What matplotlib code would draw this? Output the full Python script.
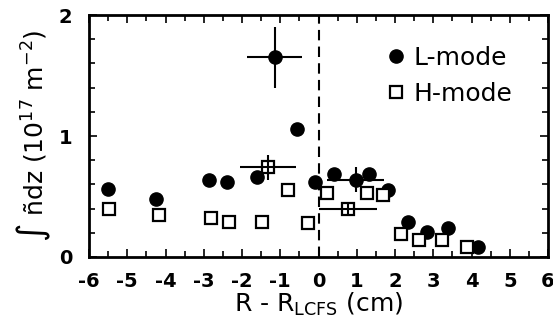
import matplotlib
matplotlib.use("Agg")
import matplotlib.pyplot as plt
from matplotlib.ticker import MultipleLocator

# L-mode points (filled circles)
l_r = [-5.5, -4.25, -2.86, -2.39, -1.61, -1.14, -0.56, -0.09, 0.41, 0.97, 1.32, 1.82, 2.34, 2.84, 3.39, 4.17]
l_n = [0.56, 0.48, 0.64, 0.62, 0.66, 1.65, 1.06, 0.62, 0.69, 0.64, 0.69, 0.55, 0.29, 0.21, 0.24, 0.08]
# representative error bars on L-mode
l_err_r = [-1.14, 0.97]
l_err_n = [1.65, 0.64]
l_err_dx = [0.72, 0.74]
l_err_dy = [0.25, 0.10]

# H-mode points (open squares)
h_r = [-5.47, -4.17, -2.81, -2.34, -1.48, -1.32, -0.80, -0.27, 0.22, 0.77, 1.27, 1.69, 2.16, 2.63, 3.23, 3.88]
h_n = [0.40, 0.35, 0.32, 0.29, 0.29, 0.74, 0.55, 0.28, 0.53, 0.40, 0.53, 0.51, 0.19, 0.14, 0.14, 0.08]
h_err_r = [-1.32, 0.77]
h_err_n = [0.74, 0.40]
h_err_dx = [0.73, 0.75]
h_err_dy = [0.10, 0.05]

x_ticks = list(range(-6, 7))
x_labels = ["-6", "-5", "-4", "-3", "-2", "-1", "0", "1", "2", "3", "4", "5", "6"]
y_ticks = [0, 1, 2]
y_labels = ["0", "1", "2"]

plt.rcParams["font.family"] = ["DejaVu Sans"]
plt.rcParams["mathtext.default"] = "regular"

fig = plt.figure(figsize=(5.53, 3.29), dpi=100)
ax = fig.add_axes([0.161, 0.219, 0.830, 0.735])

ax.axvline(0, color="black", ls=(0, (5, 3)), lw=1.5, zorder=1)

ax.errorbar(l_err_r, l_err_n, xerr=l_err_dx, yerr=l_err_dy, fmt="none",
            ecolor="black", elinewidth=1.5, capsize=0, zorder=2)
ax.plot(l_r, l_n, "o", color="black", ms=9.5, ls="none", zorder=3, label="L-mode")
ax.plot(h_r, h_n, "s", mfc="white", mec="black", mew=1.6, ms=8.5, ls="none",
        zorder=4, label="H-mode")
ax.errorbar(h_err_r, h_err_n, xerr=h_err_dx, yerr=h_err_dy, fmt="none",
            ecolor="black", elinewidth=1.5, capsize=0, zorder=5)

ax.set_xlim(-6, 6)
ax.set_ylim(0, 2)
ax.xaxis.set_minor_locator(MultipleLocator(0.5))
ax.yaxis.set_minor_locator(MultipleLocator(0.2))
ax.tick_params(which="both", direction="in", top=True, right=True, width=1.2)
ax.tick_params(which="major", length=6)
ax.tick_params(which="minor", length=4)
ax.tick_params(axis="x", which="major", pad=11)
ax.tick_params(axis="y", which="major", pad=12)
ax.set_xticks(x_ticks)
ax.set_xticklabels(x_labels, fontweight="bold", fontsize=14)
ax.set_yticks(y_ticks)
ax.set_yticklabels(y_labels, fontweight="bold", fontsize=14)
for s in ax.spines.values():
    s.set_linewidth(2)

ax.set_xlabel(r"R - R$_{LCFS}$ (cm)", fontsize=18, labelpad=0)
ax.set_ylabel(r"$\int$ ñdz (10$^{17}$ m$^{-2}$)", fontsize=18, labelpad=4)

ax.legend(loc="upper left", bbox_to_anchor=(0.63, 0.915), frameon=False,
          fontsize=18, handlelength=0.6, handletextpad=0.4, labelspacing=0.5,
          borderaxespad=0)

fig.savefig("out.png", dpi=100)
